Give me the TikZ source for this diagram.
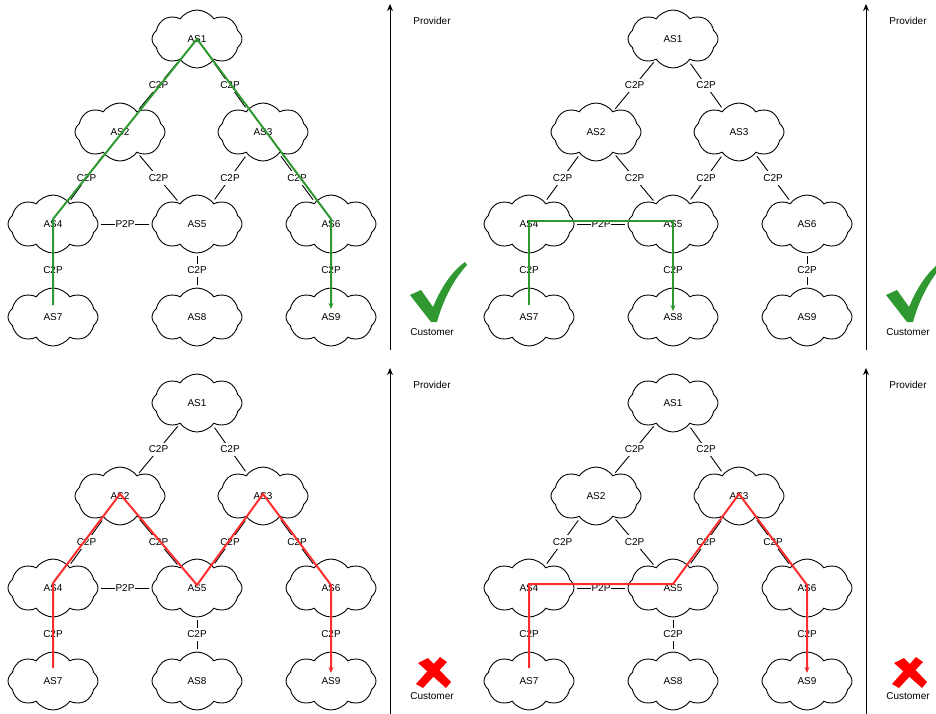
\documentclass[tikz,border=0pt]{standalone}
\usepackage{fontspec}
\setmainfont{Liberation Sans}
\usetikzlibrary{arrows.meta, shapes.symbols}
\definecolor{okgreen}{RGB}{48,152,48}
\definecolor{badred}{RGB}{255,45,45}
\definecolor{xred}{RGB}{255,0,0}
\tikzset{
  as/.style     = {cloud, cloud puffs=8, cloud puff arc=110, aspect=1.6,
                   draw, line width=0.9pt, minimum width=90pt, minimum height=58pt,
                   inner sep=0pt, font=\fontsize{10}{12}\selectfont},
  link/.style   = {line width=0.9pt, shorten <=3pt, shorten >=3pt},
  tag/.style    = {fill=white, inner xsep=1pt, inner ysep=3pt,
                   font=\fontsize{10}{12}\selectfont},
  side/.style   = {font=\fontsize{10}{12}\selectfont},
  axis/.style   = {line width=1pt, -{Stealth[length=7pt, width=6pt]}},
  okpath/.style = {okgreen, line width=2pt, -{Stealth[length=6pt, width=5pt]}},
  badpath/.style= {badred, line width=2pt, -{Stealth[length=6pt, width=5pt]}},
}
% nine ASes with their links, plus the provider/customer axis
\newcommand{\asnet}[1]{%
  \node[as] (#1-as1) at (197,39)  {AS1};
  \node[as] (#1-as2) at (120,132) {AS2};
  \node[as] (#1-as3) at (263,132) {AS3};
  \node[as] (#1-as4) at (53,224)  {AS4};
  \node[as] (#1-as5) at (197,224) {AS5};
  \node[as] (#1-as6) at (331,224) {AS6};
  \node[as] (#1-as7) at (53,317)  {AS7};
  \node[as] (#1-as8) at (197,317) {AS8};
  \node[as] (#1-as9) at (331,317) {AS9};
  \draw[link] (#1-as1) -- node[tag]{C2P} (#1-as2);
  \draw[link] (#1-as1) -- node[tag]{C2P} (#1-as3);
  \draw[link] (#1-as2) -- node[tag]{C2P} (#1-as4);
  \draw[link] (#1-as2) -- node[tag]{C2P} (#1-as5);
  \draw[link] (#1-as3) -- node[tag]{C2P} (#1-as5);
  \draw[link] (#1-as3) -- node[tag]{C2P} (#1-as6);
  \draw[link] (#1-as4) -- node[tag]{P2P} (#1-as5);
  \draw[link] (#1-as4) -- node[tag]{C2P} (#1-as7);
  \draw[link] (#1-as5) -- node[tag]{C2P} (#1-as8);
  \draw[link] (#1-as6) -- node[tag]{C2P} (#1-as9);
  \coordinate (#1-low)  at (390,350);
  \coordinate (#1-high) at (390,4);
  \draw[axis] (#1-low) -- (#1-high);
  \node[side] (#1-prov) at (432,21)  {Provider};
  \node[side] (#1-cust) at (432,332) {Customer};
}
\newcommand{\passmark}{%
  \fill[okgreen] (410,295) -- (421,290) -- (433,307)
    .. controls (441,288) and (451,272) .. (465,262) -- (467,265)
    .. controls (454,279) and (443,300) .. (437,322) -- (431,322) -- cycle;
}
\newcommand{\failmark}{%
  \fill[xred] (418,299) -- (428,294) -- (451,318) -- (446,324) -- cycle;
  \fill[xred] (440,293) -- (447,298) -- (423,324) -- (416,320) -- cycle;
}

\begin{document}
\begin{tikzpicture}[x=1pt, y=-1pt]
  \useasboundingbox (0,0) rectangle (936,713);

  % valley-free path
  \asnet{a}
  \passmark
  \draw[okpath] ([yshift=12pt]a-as7.center) -- ([yshift=5pt]a-as4.center)
    -- (a-as1.center) -- ([yshift=5pt]a-as6.center) -- ([yshift=8pt]a-as9.center);

  % across one peering link
  \begin{scope}[shift={(476,0)}]
    \asnet{b}
    \passmark
    \draw[okpath] ([yshift=12pt]b-as7.center) -- ([yshift=3pt]b-as4.center)
      -- ([yshift=3pt]b-as5.center) -- ([yshift=6pt]b-as8.center);
  \end{scope}

  % down and up again
  \begin{scope}[shift={(0,364)}]
    \asnet{c}
    \failmark
    \draw[badpath] ([yshift=13pt]c-as7.center) -- ([yshift=5pt]c-as4.center)
      -- ([yshift=2pt]c-as2.center) -- ([yshift=3pt]c-as5.center)
      -- ([yshift=2pt]c-as3.center) -- ([yshift=3pt]c-as6.center)
      -- ([yshift=8pt]c-as9.center);
  \end{scope}

  % peering then up
  \begin{scope}[shift={(476,364)}]
    \asnet{d}
    \failmark
    \draw[badpath] ([yshift=13pt]d-as7.center) -- ([yshift=4pt]d-as4.center)
      -- ([yshift=4pt]d-as5.center) -- ([yshift=2pt]d-as3.center)
      -- ([yshift=3pt]d-as6.center) -- ([yshift=8pt]d-as9.center);
  \end{scope}
\end{tikzpicture}
\end{document}
